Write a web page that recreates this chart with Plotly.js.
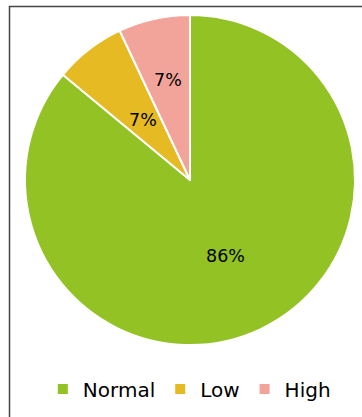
<!DOCTYPE html>
<html>
<head>
<meta charset="utf-8">
<script src="https://cdn.plot.ly/plotly-3.0.1.min.js"></script>
<style>html,body{margin:0;padding:0;background:#fff;}#chart{width:362px;height:417px;}</style>
</head>
<body>
<div id="chart"></div>
<script>
const categories = ["Normal", "Low", "High"];
const values = [86, 7, 7];
const colors = ["#93C225", "#E6BA23", "#F2A49B"];
// radial position of each percentage label, as a fraction of the radius
const labelRadius = [0.507, 0.464, 0.62];

const W = 362, H = 417;
const cx = 190, cy = 180, r = 165;

const trace = {
  type: "pie",
  labels: categories,
  values: values,
  sort: false,
  direction: "clockwise",
  rotation: 0,
  marker: { colors: colors, line: { color: "#ffffff", width: 2 } },
  textinfo: "none",
  hoverinfo: "none",
  domain: {
    x: [(cx - r) / W, (cx + r) / W],
    y: [1 - (cy + r) / H, 1 - (cy - r) / H]
  }
};

// percentage labels placed at each slice's mid-angle
const total = values.reduce((a, b) => a + b, 0);
let cum = 0;
const annotations = values.map((v, i) => {
  const mid = (cum + v / 2) / total * 2 * Math.PI;
  cum += v;
  const d = labelRadius[i] * r;
  const px = cx + d * Math.sin(mid);
  const py = cy - d * Math.cos(mid);
  return {
    xref: "paper", yref: "paper",
    x: px / W, y: 1 - py / H,
    xanchor: "center", yanchor: "middle",
    showarrow: false,
    text: Math.round(v / total * 100) + "%",
    font: { family: "DejaVu Sans", size: 17.5, color: "#000000" }
  };
});

const layout = {
  width: W, height: H,
  margin: { l: 0, r: 0, t: 0, b: 0 },
  paper_bgcolor: "#ffffff",
  font: { family: "DejaVu Sans", color: "#000000" },
  showlegend: true,
  legend: {
    orientation: "h",
    x: 0.523, xanchor: "center",
    y: 1 - 389 / H, yanchor: "middle",
    font: { family: "DejaVu Sans", size: 20, color: "#000000" },
    itemwidth: 30,
    traceorder: "normal"
  },
  annotations: annotations,
  shapes: [{
    type: "rect", xref: "paper", yref: "paper",
    x0: 9.5 / W, x1: 1.1, y0: -0.1, y1: 1 - 6.5 / H,
    line: { color: "#444444", width: 1.5 }, fillcolor: "rgba(0,0,0,0)", layer: "below"
  }]
};

Plotly.newPlot("chart", [trace], layout, { displayModeBar: false, staticPlot: true });
</script>
</body>
</html>
